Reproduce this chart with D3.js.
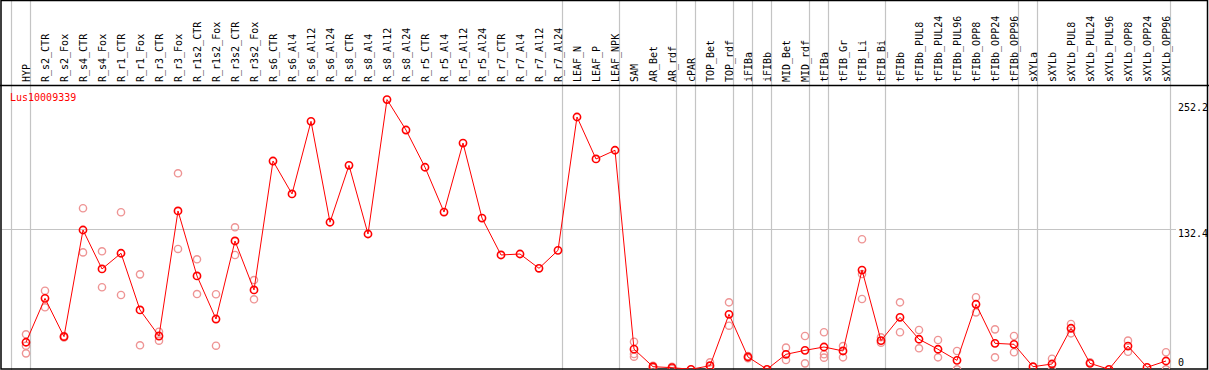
<!DOCTYPE html>
<html>
<head>
<meta charset="utf-8">
<script src="https://cdn.jsdelivr.net/npm/d3@7"></script>
<style>
  html, body { margin: 0; padding: 0; background: #fff; }
  svg { display: block; }
  text { font-family: "DejaVu Sans Mono", "Liberation Mono", monospace; font-size: 10px; }
</style>
</head>
<body>
<svg id="chart" width="1209" height="370"></svg>
<script>
const title = "Lus10009339";

const categories = [
  "HYP","R_s2_CTR","R_s2_Fox","R_s4_CTR","R_s4_Fox","R_r1_CTR","R_r1_Fox","R_r3_CTR","R_r3_Fox",
  "R_r1s2_CTR","R_r1s2_Fox","R_r3s2_CTR","R_r3s2_Fox","R_s6_CTR","R_s6_Al4","R_s6_Al12","R_s6_Al24",
  "R_s8_CTR","R_s8_Al4","R_s8_Al12","R_s8_Al24","R_r5_CTR","R_r5_Al4","R_r5_Al12","R_r5_Al24",
  "R_r7_CTR","R_r7_Al4","R_r7_Al12","R_r7_Al24","LEAF_N","LEAF_P","LEAF_NPK","SAM","AR_Bet","AR_rdf",
  "cPAR","TOP_Bet","TOP_rdf","iFIBa","iFIBb","MID_Bet","MID_rdf","tFIBa","tFIB_Gr","tFIB_Li","tFIB_Bi",
  "tFIBb","tFIBb_PUL8","tFIBb_PUL24","tFIBb_PUL96","tFIBb_OPP8","tFIBb_OPP24","tFIBb_OPP96",
  "sXYLa","sXYLb","sXYLb_PUL8","sXYLb_PUL24","sXYLb_PUL96","sXYLb_OPP8","sXYLb_OPP24","sXYLb_OPP96"
];

const means = [
  26.7, 67.5, 31.9, 131.0, 94.8, 109.4, 56.7, 32.5, 148.7,
  88.3, 48.3, 120.8, 75.3, 195.1, 164.5, 232.0, 138.2,
  191.1, 127.3, 252.2, 223.9, 189.3, 147.7, 211.8, 142.1,
  107.8, 108.7, 95.4, 112.1, 236.0, 197.0, 205.1, 20.3, 4.0, 3.1,
  1.6, 4.9, 52.7, 13.0, 1.6, 15.5, 19.2, 22.3, 18.6, 93.8, 28.2,
  49.9, 29.5, 20.2, 9.9, 62.0, 25.7, 24.8,
  4.0, 6.5, 39.7, 7.1, 1.6, 23.2, 3.4, 9.3
];

const replicates = [
  [34.1, 23.5, 16.4], [74.6, 59.2], [32.5, 31.2], [151.2, 110.2], [111.2, 77.8], [147.5, 70.6],
  [89.8, 23.9], [36.5, 28.2], [183.7, 113.4], [103.8, 71.5], [71.3, 23.5], [133.5, 107.8], [84.5, 66.6],
  [], [], [], [], [], [], [], [], [], [], [], [], [], [], [], [], [], [], [],
  [27.2, 15.8, 13.3], [4.9, 3.0], [4.0, 2.0], [], [8.1, 2.5], [63.8, 42.1], [13.9, 12.0], [],
  [21.7, 10.2], [32.5, 7.1], [36.0, 15.5, 12.4], [23.2, 12.7], [122.4, 90.1, 66.9], [31.3, 26.3],
  [63.8, 36.0], [38.1, 21.1], [28.8, 12.7], [18.6, 1.6], [68.5, 54.5], [38.7, 12.7], [32.5, 17.4],
  [], [11.4, 0.9], [43.7, 35.0], [8.1], [], [28.2, 17.9], [], [17.4, 1.6]
];

// group separators: drawn after these column indices
const groupEnds = [-1, 0, 28, 31, 34, 35, 37, 38, 39, 41, 42, 45, 52, 53, 60];

const tickValues = [0, 132.4, 252.2];
const tickLabels = ["0", "132.4", "252.2"];

const W = 1209, H = 370;
const headerBottom = 85;
const svg = d3.select("#chart");

const x = d3.scaleLinear().domain([0, categories.length - 1]).range([26, 1166]);
const y = d3.scaleLinear().domain([0, 264.8]).range([371, 86]);

const clipId = "plotclip";
svg.append("defs").append("clipPath").attr("id", clipId)
  .append("rect").attr("x", 2).attr("y", headerBottom + 1).attr("width", W - 4).attr("height", H - headerBottom - 2);

// horizontal gridline (mid tick)
svg.append("line")
  .attr("x1", 2).attr("x2", 1176)
  .attr("y1", Math.round(y(132.4)) + 0.5).attr("y2", Math.round(y(132.4)) + 0.5)
  .attr("stroke", "#c4c4c4").attr("stroke-width", 1.2);

// group separators
svg.selectAll("line.sep").data(groupEnds).enter().append("line")
  .attr("class", "sep")
  .attr("x1", d => Math.floor(x(d) + 4.5) + 0.5).attr("x2", d => Math.floor(x(d) + 4.5) + 0.5)
  .attr("y1", 0).attr("y2", H)
  .attr("stroke", "#c4c4c4").attr("stroke-width", 1.2);

// category labels (rotated)
svg.selectAll("text.cat").data(categories).enter().append("text")
  .attr("class", "cat")
  .attr("transform", (d, i) => `translate(${x(i) + 3.5},82) rotate(-90)`)
  .attr("fill", "#000")
  .text(d => d);

// borders
svg.append("line").attr("x1", 0).attr("x2", W).attr("y1", headerBottom + 0.5).attr("y2", headerBottom + 0.5)
  .attr("stroke", "#000").attr("stroke-width", 1.5);
svg.append("rect").attr("x", 1).attr("y", 0.5).attr("width", W - 2.5).attr("height", H - 1.5)
  .attr("fill", "none").attr("stroke", "#000").attr("stroke-width", 1.5);

// right axis labels
svg.selectAll("text.tick").data(tickValues).enter().append("text")
  .attr("class", "tick")
  .attr("x", 1178)
  .attr("y", (d, i) => d === 0 ? 366 : y(d) + (i === 2 ? 11 : 8.5))
  .attr("fill", "#000")
  .text((d, i) => tickLabels[i]);

// title
svg.append("text").attr("x", 10).attr("y", 101).attr("fill", "#ff0000").text(title);

const plot = svg.append("g").attr("clip-path", `url(#${clipId})`);

// replicate points
const repPts = [];
replicates.forEach((arr, i) => arr.forEach(v => repPts.push({ i, v })));
plot.selectAll("circle.rep").data(repPts).enter().append("circle")
  .attr("class", "rep")
  .attr("cx", d => x(d.i)).attr("cy", d => y(d.v)).attr("r", 3.6)
  .attr("fill", "none").attr("stroke", "#ee9494").attr("stroke-width", 1.4);

// mean line
const line = d3.line().x((d, i) => x(i)).y(d => y(d));
plot.append("path").datum(means).attr("d", line)
  .attr("fill", "none").attr("stroke", "#ff0000").attr("stroke-width", 1);

// mean markers
plot.selectAll("circle.mean").data(means).enter().append("circle")
  .attr("class", "mean")
  .attr("cx", (d, i) => x(i)).attr("cy", d => y(d)).attr("r", 3.6)
  .attr("fill", "none").attr("stroke", "#ff0000").attr("stroke-width", 1.6);
</script>
</body>
</html>
